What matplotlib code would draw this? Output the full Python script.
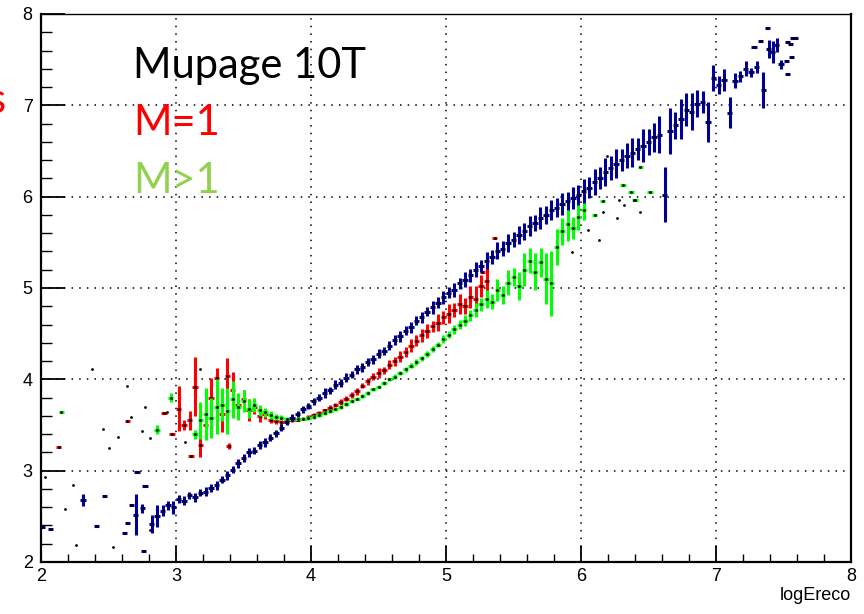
import matplotlib.pyplot as plt
from matplotlib.ticker import MultipleLocator
import numpy as np

plt.rcParams['font.family'] = ['Liberation Sans', 'DejaVu Sans']

BIN = 0.04  # profile bin width in logEreco

# Mupage 10T (all) - dense profile bins starting at 2.82
blue_x0 = 2.82
blue_y = [2.42, 2.50, 2.56, 2.62, 2.60, 2.69, 2.67, 2.73, 2.71, 2.76,
          2.77, 2.81, 2.84, 2.90, 2.95, 3.01, 3.08, 3.14, 3.20, 3.22,
          3.28, 3.31, 3.36, 3.41, 3.47, 3.53, 3.58, 3.62, 3.67, 3.71,
          3.76, 3.80, 3.85, 3.88, 3.94, 3.96, 4.02, 4.05, 4.11, 4.13,
          4.19, 4.22, 4.28, 4.31, 4.37, 4.43, 4.47, 4.53, 4.57, 4.64,
          4.68, 4.74, 4.79, 4.84, 4.90, 4.95, 4.98, 5.05, 5.09, 5.14,
          5.20, 5.24, 5.30, 5.34, 5.41, 5.43, 5.49, 5.53, 5.58, 5.62,
          5.68, 5.71, 5.77, 5.80, 5.85, 5.88, 5.92, 5.95, 5.99, 6.02,
          6.06, 6.10, 6.16, 6.20, 6.27, 6.31, 6.36, 6.40, 6.45, 6.48,
          6.52, 6.56, 6.60, 6.65, 6.68, 6.02, 6.72, 6.78, 6.85, 6.95,
          6.93, 7.02, 7.04, 6.82, 7.30, 7.22, 7.28, 6.92, 7.27, 7.32,
          7.40, 7.36, 7.42]
blue_err = [0.10, 0.12, 0.06, 0.05, 0.07, 0.04, 0.05, 0.04, 0.05, 0.04,
            0.05, 0.04, 0.05, 0.04, 0.05, 0.04, 0.05, 0.04, 0.05, 0.04,
            0.04, 0.05, 0.04, 0.04, 0.04, 0.03, 0.04, 0.03, 0.04, 0.03,
            0.04, 0.04, 0.05, 0.04, 0.05, 0.04, 0.05, 0.04, 0.05, 0.05,
            0.04, 0.05, 0.05, 0.04, 0.05, 0.05, 0.06, 0.05, 0.06, 0.05,
            0.06, 0.05, 0.07, 0.06, 0.07, 0.06, 0.08, 0.06, 0.08, 0.07,
            0.08, 0.07, 0.09, 0.08, 0.09, 0.08, 0.10, 0.08, 0.10, 0.09,
            0.11, 0.09, 0.12, 0.10, 0.11, 0.10, 0.12, 0.10, 0.12, 0.11,
            0.13, 0.12, 0.14, 0.12, 0.15, 0.13, 0.16, 0.12, 0.14, 0.16,
            0.12, 0.18, 0.14, 0.16, 0.20, 0.30, 0.25, 0.15, 0.22, 0.18,
            0.20, 0.15, 0.12, 0.22, 0.14, 0.10, 0.12, 0.17, 0.08, 0.06,
            0.08, 0.05, 0.07]
# sparse bins (few entries) at both ends
blue_sx = [2.01, 2.07, 2.31, 2.41, 2.47, 2.62, 2.64, 2.67, 2.70, 2.71, 2.75, 2.77, 2.76,
           7.28, 7.33, 7.35, 7.39, 7.42, 7.45, 7.48, 7.38, 7.52, 7.53, 7.55, 7.56, 7.57, 7.59, 7.53]
blue_sy = [2.38, 2.36, 2.68, 2.39, 2.72, 2.32, 2.43, 2.62, 2.52, 2.98, 2.59, 2.83, 2.12,
           7.64, 7.70, 7.17, 7.62, 7.58, 7.66, 7.45, 7.85, 7.49, 7.69, 7.67, 7.53, 7.74, 7.74, 7.34]
blue_se = [0, 0, 0.07, 0, 0, 0, 0, 0, 0.22, 0, 0.05, 0, 0,
           0, 0, 0.20, 0.10, 0.12, 0.08, 0.05, 0, 0, 0, 0, 0, 0, 0, 0]

# M=1
red_x0 = 3.02
red_y = [3.68, 3.50, 3.55, 3.92, 3.28, 3.50, 3.80, 4.02, 3.62, 4.04,
         3.88, 3.72, 3.78, 3.66, 3.70, 3.60, 3.62, 3.56, 3.54, 3.53,
         3.54, 3.55, 3.56, 3.57, 3.59, 3.61, 3.63, 3.66, 3.69, 3.72,
         3.75, 3.79, 3.83, 3.87, 3.93, 3.98, 4.03, 4.07, 4.10, 4.16,
         4.20, 4.25, 4.30, 4.37, 4.42, 4.48, 4.53, 4.58, 4.62, 4.68,
         4.72, 4.76, 4.82, 4.80, 4.90, 4.88, 5.02, 5.08]
red_err = [0.25, 0.05, 0.10, 0.32, 0.13, 0.15, 0.22, 0.10, 0.20, 0.19,
           0.20, 0.12, 0.10, 0.12, 0.08, 0.07, 0.05, 0.04, 0.03, 0.03,
           0.02, 0.02, 0.02, 0.02, 0.02, 0.02, 0.02, 0.02, 0.03, 0.02,
           0.03, 0.03, 0.03, 0.04, 0.03, 0.04, 0.04, 0.05, 0.04, 0.05,
           0.05, 0.06, 0.05, 0.07, 0.06, 0.07, 0.08, 0.06, 0.09, 0.07,
           0.10, 0.08, 0.11, 0.09, 0.12, 0.14, 0.12, 0.15]
red_sx = [2.13, 2.64, 2.91, 2.97, 3.11, 3.39, 5.27, 5.36]
red_sy = [3.26, 3.54, 3.63, 3.40, 3.16, 3.27, 5.18, 5.55]
red_se = [0, 0, 0, 0, 0, 0.03, 0, 0]

# M>1
green_x0 = 3.14
green_y = [3.40, 3.55, 3.62, 3.58, 3.70, 3.72, 3.65, 3.78, 3.70, 3.76,
           3.68, 3.72, 3.66, 3.64, 3.61, 3.59, 3.58, 3.57, 3.57, 3.57,
           3.57, 3.58, 3.59, 3.61, 3.63, 3.65, 3.67, 3.70, 3.73, 3.76,
           3.79, 3.82, 3.85, 3.89, 3.92, 3.96, 4.00, 4.03, 4.07, 4.11,
           4.15, 4.19, 4.23, 4.28, 4.33, 4.38, 4.44, 4.49, 4.55, 4.60,
           4.64, 4.70, 4.76, 4.82, 4.88, 4.85, 4.98, 4.92, 5.06, 5.12,
           5.02, 5.20, 5.30, 5.18, 5.28, 5.10, 5.05, 5.45, 5.62, 5.70,
           5.66, 5.78, 5.85]
green_err = [0.05, 0.20, 0.28, 0.22, 0.30, 0.18, 0.25, 0.20, 0.15, 0.12,
             0.10, 0.08, 0.06, 0.05, 0.04, 0.03, 0.03, 0.02, 0.02, 0.02,
             0.02, 0.02, 0.02, 0.02, 0.02, 0.02, 0.02, 0.02, 0.02, 0.02,
             0.02, 0.02, 0.02, 0.02, 0.02, 0.02, 0.02, 0.03, 0.02, 0.03,
             0.03, 0.03, 0.03, 0.03, 0.03, 0.03, 0.04, 0.04, 0.05, 0.05,
             0.06, 0.06, 0.08, 0.07, 0.10, 0.08, 0.12, 0.10, 0.14, 0.10,
             0.15, 0.18, 0.14, 0.20, 0.16, 0.28, 0.36, 0.20, 0.15, 0.18,
             0.12, 0.15, 0.10]
green_sx = [2.15, 2.86, 2.96, 6.10, 6.16, 6.31, 6.37, 6.40, 6.44, 6.51]
green_sy = [3.64, 3.45, 3.80, 5.80, 5.95, 6.13, 6.05, 5.96, 6.32, 6.05]
green_se = [0, 0.05, 0.05, 0, 0, 0, 0, 0, 0, 0]

# lone markers (single-entry bins)
black_x = [2.03, 2.18, 2.24, 2.26, 2.38, 2.46, 2.50, 2.53, 2.57, 2.64, 2.67, 2.75, 2.77, 2.81,
           2.81, 2.93, 3.07, 3.18, 5.93, 6.05, 6.13, 6.16, 6.19, 6.27, 6.28, 6.32, 6.39, 6.44]
black_y = [2.93, 2.58, 2.84, 2.19, 4.11, 3.46, 3.25, 2.16, 3.37, 3.93, 3.59, 3.43, 3.70, 3.36,
           2.35, 3.64, 3.31, 4.11, 5.39, 5.64, 5.53, 5.83, 6.45, 5.77, 5.96, 5.91, 5.96, 5.83]

BLUE = '#000099'
RED = '#ff0000'
GREEN = '#00ff00'

fig = plt.figure(figsize=(8.64, 6.14), dpi=100)
ax = fig.add_axes([41 / 864, 52 / 614, 810 / 864, 548 / 614])


def draw_profile(x, y, err, color, z):
    ax.errorbar(x, y, yerr=err, xerr=BIN / 2, fmt='none', ecolor=color,
                elinewidth=2.2, capsize=0, zorder=z)
    ax.plot(x, y, 'o', color='black', ms=2.0, mew=0, zorder=z + 0.5)


def dense_x(x0, vals):
    return x0 + BIN * np.arange(len(vals))


draw_profile(dense_x(red_x0, red_y), red_y, red_err, RED, 3)
draw_profile(red_sx, red_sy, red_se, RED, 3)
draw_profile(dense_x(green_x0, green_y), green_y, green_err, GREEN, 4)
draw_profile(green_sx, green_sy, green_se, GREEN, 4)
draw_profile(dense_x(blue_x0, blue_y), blue_y, blue_err, BLUE, 5)
draw_profile(blue_sx, blue_sy, blue_se, BLUE, 5)
ax.plot(black_x, black_y, 'o', color='black', ms=2.0, mew=0, zorder=6)

ax.set_xlim(2, 8)
ax.set_ylim(2, 8)
ax.xaxis.set_major_locator(MultipleLocator(1))
ax.yaxis.set_major_locator(MultipleLocator(1))
ax.xaxis.set_minor_locator(MultipleLocator(0.2))
ax.yaxis.set_minor_locator(MultipleLocator(0.2))
ax.tick_params(axis='x', which='major', direction='in', length=11.5, width=1.3,
               labelsize=13, pad=4)
ax.tick_params(axis='x', which='minor', direction='in', length=5.8, width=1.0)
ax.tick_params(axis='y', which='major', direction='in', length=17, width=1.3,
               labelsize=13, pad=6)
ax.tick_params(axis='y', which='minor', direction='in', length=8, width=1.0)
ax.grid(True, which='major', color='black', linestyle=(0, (1, 4)), linewidth=1.1)
for side in ['left', 'bottom', 'right']:
    ax.spines[side].set_linewidth(1.6)
ax.spines['top'].set_linewidth(1.0)

ax.set_xlabel('logEreco', loc='right', fontsize=13, labelpad=2)

# overlaid legend text
fig.text(133 / 864, 1 - 78 / 614, 'Mupage 10T', fontsize=30, family='Lato',
         color='black', va='baseline')
fig.text(133 / 864, 1 - 135 / 614, 'M=1', fontsize=30, family='Lato',
         color='#ff0000', va='baseline')
fig.text(133 / 864, 1 - 193 / 614, 'M>1', fontsize=30, family='Lato',
         color='#92d050', va='baseline')
# fragment of a label cut by the left edge, as in the original slide
fig.text(6 / 864, 1 - 113 / 614, 's', fontsize=30, family='Lato',
         color='#ff0000', va='baseline', ha='right')

plt.savefig('out.png', dpi=100, facecolor='white')
